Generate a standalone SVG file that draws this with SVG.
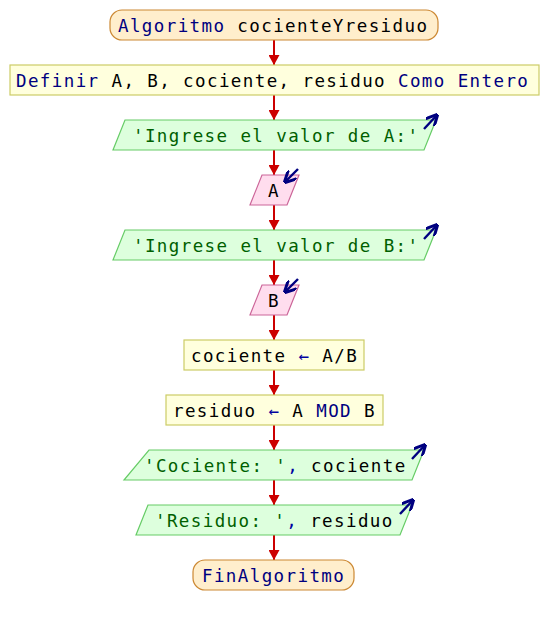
<svg xmlns="http://www.w3.org/2000/svg" width="548" height="625" viewBox="0 0 548 625">
<defs>
<marker id="ah" viewBox="0 0 10 10" refX="10" refY="5" markerWidth="5" markerHeight="5.5" orient="auto" markerUnits="strokeWidth" preserveAspectRatio="none"><path d="M0,0 L10,5 L0,10 z" fill="#cc0000"/></marker>
<marker id="io" viewBox="0 0 10 10" refX="9" refY="5" markerWidth="5" markerHeight="5" orient="auto" markerUnits="strokeWidth"><path d="M0,0 L10,5 L0,10" fill="none" stroke="#000080" stroke-width="2.5"/></marker>
</defs>
<style>
text{font-family:"DejaVu Sans Mono","Liberation Mono",monospace;font-size:17.5px;letter-spacing:1.4px;fill:#000}
.kw{fill:#000080}
.st{fill:#006000}
.op{fill:#0000a0}
.term{fill:#ffeecc;stroke:#cc8833;stroke-width:1.2}
.proc{fill:#ffffdd;stroke:#cccc66;stroke-width:1.2}
.out{fill:#ddffdd;stroke:#66cc66;stroke-width:1.2}
.in{fill:#ffddee;stroke:#cc6699;stroke-width:1.2}
.c{stroke:#cc0000;stroke-width:2;fill:none;marker-end:url(#ah)}
.ic{stroke:#000080;stroke-width:2.4;fill:none;marker-end:url(#io)}
</style>
<rect width="548" height="625" fill="#fff"/>
<g id="connectors">
<line class="c" x1="274" y1="40" x2="274" y2="65"/>
<line class="c" x1="274" y1="95" x2="274" y2="120"/>
<line class="c" x1="274" y1="150" x2="274" y2="175"/>
<line class="c" x1="274" y1="205" x2="274" y2="230"/>
<line class="c" x1="274" y1="260" x2="274" y2="285"/>
<line class="c" x1="274" y1="315" x2="274" y2="340"/>
<line class="c" x1="274" y1="370" x2="274" y2="395"/>
<line class="c" x1="274" y1="425" x2="274" y2="450"/>
<line class="c" x1="274" y1="480" x2="274" y2="505"/>
<line class="c" x1="274" y1="535" x2="274" y2="560"/>
</g>
<g id="start">
<rect class="term" x="110" y="10" width="328" height="30" rx="12"/>
<text x="118" y="31.5"><tspan class="kw">Algoritmo</tspan> cocienteYresiduo</text>
</g>
<g id="definir">
<rect class="proc" x="10" y="65" width="529" height="30"/>
<text x="16" y="86.5"><tspan class="kw">Definir</tspan> A, B, cociente, residuo <tspan class="kw">Como Entero</tspan></text>
</g>
<g id="out1">
<path class="out" d="M125,120 L436,120 L424,150 L113,150 Z"/>
<text x="133" y="141.5" class="st">'Ingrese el valor de A:'</text>
<line class="ic" x1="424" y1="129" x2="437" y2="115"/>
</g>
<g id="inA">
<path class="in" d="M262,175 L299,175 L287,205 L250,205 Z"/>
<text x="268" y="196.5">A</text>
<line class="ic" x1="298" y1="169" x2="285" y2="182"/>
</g>
<g id="out2">
<path class="out" d="M125,230 L436,230 L424,260 L113,260 Z"/>
<text x="133" y="251.5" class="st">'Ingrese el valor de B:'</text>
<line class="ic" x1="424" y1="239" x2="437" y2="225"/>
</g>
<g id="inB">
<path class="in" d="M262,285 L299,285 L287,315 L250,315 Z"/>
<text x="268" y="306.5">B</text>
<line class="ic" x1="298" y1="279" x2="285" y2="292"/>
</g>
<g id="asig1">
<rect class="proc" x="184" y="340" width="180" height="30"/>
<text x="191" y="361.5">cociente <tspan class="op">←</tspan> A/B</text>
</g>
<g id="asig2">
<rect class="proc" x="166" y="395" width="217" height="30"/>
<text x="173" y="416.5">residuo <tspan class="op">←</tspan> A <tspan class="kw">MOD</tspan> B</text>
</g>
<g id="out3">
<path class="out" d="M149,450 L424,450 L412,480 L124,480 Z"/>
<text x="144" y="471.5"><tspan class="st">'Cociente: '</tspan><tspan class="op">,</tspan> cociente</text>
<line class="ic" x1="412" y1="459" x2="425" y2="445"/>
</g>
<g id="out4">
<path class="out" d="M148,505 L412,505 L400,535 L136,535 Z"/>
<text x="155" y="526.5"><tspan class="st">'Residuo: '</tspan><tspan class="op">,</tspan> residuo</text>
<line class="ic" x1="400" y1="514" x2="413" y2="500"/>
</g>
<g id="end">
<rect class="term" x="193" y="560" width="161" height="30" rx="12"/>
<text x="202" y="581.5" class="kw">FinAlgoritmo</text>
</g>
</svg>
